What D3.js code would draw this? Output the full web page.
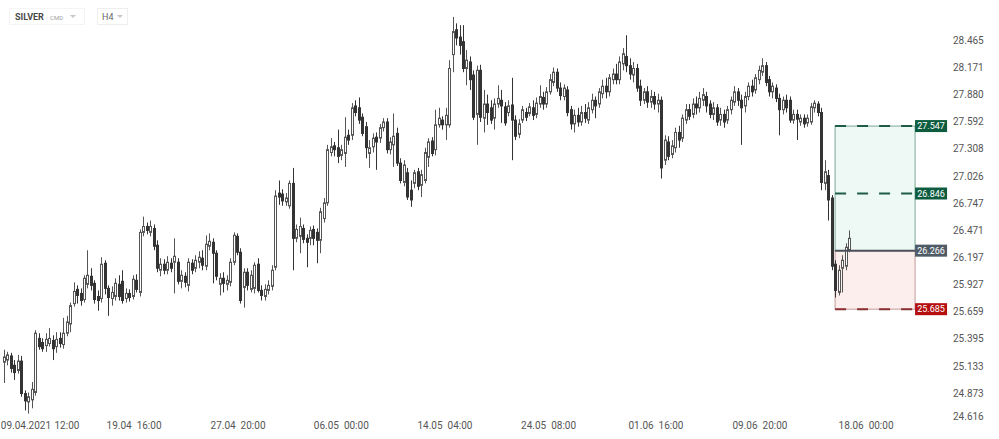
<!DOCTYPE html>
<html><head><meta charset="utf-8">
<script src="https://cdn.jsdelivr.net/npm/d3@7"></script>
<style>html,body{margin:0;padding:0;background:#fff;}svg{display:block;font-family:Roboto,"Noto Sans",Arial,sans-serif;}</style>
</head><body>
<svg id="chart" width="999" height="439"></svg>
<script>
// ---------- DATA ----------
const symbol = "SILVER", market = "CMD", interval = "H4";

const opens = [
25.17,25.19,25.23,25.14,25.09,25.18,24.87,24.79,24.81,24.88,
25.40,25.36,25.33,25.35,25.38,25.32,25.40,25.34,25.45,25.54,
25.74,25.88,25.84,25.78,25.93,26.01,25.94,25.81,25.79,26.14,
25.89,25.79,25.81,25.93,25.96,25.79,25.84,25.81,25.97,25.85,
26.45,26.51,26.45,26.49,26.32,26.07,26.13,26.07,26.14,26.15,
26.15,25.96,26.01,25.92,26.14,26.09,26.15,26.19,26.11,26.31,
26.35,26.24,25.93,25.99,25.93,25.95,26.15,26.41,26.25,25.90,
26.05,25.88,25.89,26.13,25.87,25.81,25.87,25.91,26.10,26.85,
26.84,26.76,26.72,26.95,26.39,26.41,26.49,26.39,26.39,26.48,
26.45,26.37,26.59,26.75,27.27,27.34,27.32,27.24,27.26,27.45,
27.45,27.76,27.74,27.64,27.54,27.26,27.33,27.43,27.42,27.53,
27.59,27.30,27.35,27.47,27.16,26.96,27.06,26.88,26.95,27.07,
26.93,26.98,27.22,27.39,27.30,27.56,27.61,27.56,27.56,28.31,
28.58,28.50,28.45,28.16,28.23,28.09,27.67,28.14,27.63,27.78,
27.74,27.63,27.78,27.82,27.75,27.69,27.77,27.61,27.46,27.61,
27.69,27.68,27.74,27.67,27.78,27.85,27.78,27.91,28.01,28.12,
27.95,27.86,27.93,27.72,27.57,27.66,27.59,27.69,27.61,27.72,
27.82,27.78,27.89,27.97,27.91,28.04,28.10,28.04,28.21,28.29,
28.19,28.09,28.16,27.97,27.82,27.91,27.80,27.86,27.78,27.82,
27.19,27.38,27.25,27.32,27.48,27.42,27.61,27.72,27.67,27.78,
27.74,27.82,27.86,27.78,27.67,27.74,27.61,27.67,27.61,27.72,
27.80,27.91,27.82,27.76,27.86,27.97,27.93,28.04,28.12,28.19,
28.04,27.91,27.95,27.84,27.72,27.82,27.82,27.61,27.67,27.59,
27.63,27.58,27.59,27.74,27.78,27.69,26.95,27.03,26.80,26.13,
25.85,26.09,26.11,26.27];

const highs = [
25.29,25.27,25.26,25.19,25.24,25.23,24.90,24.88,24.98,25.48,
25.45,25.40,25.45,25.50,25.43,25.46,25.46,25.60,25.62,25.75,
25.95,25.92,25.89,26.02,26.27,26.09,25.97,25.87,26.20,26.17,
25.92,25.91,25.99,26.02,26.07,25.89,25.88,26.02,26.03,26.48,
26.61,26.55,26.57,26.53,26.37,26.19,26.18,26.21,26.19,26.39,
26.19,26.07,26.05,26.19,26.18,26.22,26.26,26.27,26.42,26.44,
26.39,26.27,26.04,26.05,26.02,26.19,26.45,26.44,26.29,26.09,
26.09,26.07,26.15,26.19,25.92,25.93,25.97,26.12,26.88,26.98,
26.89,26.85,26.98,27.11,26.53,26.60,26.53,26.43,26.51,26.52,
26.49,26.70,26.80,27.35,27.42,27.38,27.51,27.35,27.64,27.51,
27.79,27.82,27.85,27.68,27.59,27.40,27.47,27.48,27.57,27.63,
27.63,27.43,27.68,27.53,27.21,27.19,27.11,26.98,27.09,27.11,
27.09,27.32,27.42,27.43,27.72,27.74,27.65,27.74,28.25,28.72,
28.65,28.63,28.63,28.36,28.29,28.14,28.19,28.20,27.93,27.88,
27.82,27.84,27.98,27.93,27.80,27.82,28.06,27.66,27.62,27.76,
27.74,27.79,27.82,27.85,27.98,27.91,27.96,28.10,28.17,28.16,
28.01,27.99,27.97,27.76,27.72,27.74,27.76,27.78,27.80,27.89,
27.86,27.95,28.04,28.06,28.10,28.16,28.21,28.29,28.38,28.52,
28.27,28.23,28.21,28.04,27.95,27.97,27.93,27.91,27.89,27.86,
27.45,27.44,27.40,27.53,27.55,27.67,27.78,27.78,27.84,27.86,
27.91,27.95,27.91,27.82,27.80,27.78,27.74,27.72,27.76,27.86,
27.97,27.95,27.88,27.91,28.01,28.04,28.10,28.19,28.27,28.23,
28.08,28.01,27.99,27.89,27.86,27.88,27.86,27.72,27.72,27.67,
27.67,27.67,27.79,27.82,27.81,27.74,27.19,27.09,26.83,26.17,
26.12,26.22,26.34,26.47];

const lows = [
24.97,25.14,25.07,25.00,25.06,24.84,24.71,24.68,24.73,24.85,
25.29,25.27,25.27,25.32,25.19,25.26,25.31,25.30,25.42,25.46,
25.71,25.74,25.72,25.75,25.89,25.87,25.74,25.67,25.75,25.83,
25.62,25.72,25.77,25.77,25.74,25.75,25.76,25.78,25.85,25.81,
26.41,26.43,26.41,26.27,26.05,26.01,26.03,26.03,26.05,25.84,
25.93,25.89,25.90,25.86,26.03,26.05,26.09,26.07,26.07,26.27,
25.94,25.97,25.82,25.85,25.87,25.91,26.12,26.22,25.74,25.70,
25.87,25.85,25.84,25.85,25.77,25.77,25.83,25.87,26.07,26.73,
26.72,26.72,26.69,26.07,26.35,26.24,26.34,26.10,26.32,26.32,
26.14,26.24,26.55,26.72,27.23,27.23,27.16,27.19,27.12,27.35,
27.40,27.65,27.57,27.44,27.21,27.11,27.27,27.09,27.37,27.49,
27.26,27.25,27.12,27.13,26.95,26.92,26.78,26.71,26.90,26.88,
26.81,26.95,27.12,27.23,27.24,27.53,27.51,27.40,27.53,28.12,
28.41,28.31,28.12,27.98,27.93,27.61,27.35,27.59,27.48,27.56,
27.57,27.51,27.74,27.58,27.55,27.65,27.19,27.40,27.42,27.58,
27.60,27.65,27.61,27.63,27.74,27.72,27.74,27.88,27.97,27.91,
27.82,27.82,27.65,27.51,27.48,27.54,27.55,27.58,27.57,27.68,
27.63,27.74,27.84,27.84,27.86,27.99,27.99,27.99,28.14,28.12,
28.04,28.01,27.91,27.76,27.78,27.74,27.74,27.72,27.69,27.00,
27.14,27.19,27.21,27.27,27.32,27.38,27.57,27.61,27.63,27.67,
27.69,27.76,27.69,27.63,27.61,27.55,27.55,27.53,27.57,27.67,
27.76,27.76,27.35,27.69,27.82,27.86,27.89,27.99,28.08,27.97,
27.86,27.84,27.80,27.45,27.67,27.69,27.58,27.57,27.40,27.55,
27.53,27.54,27.56,27.69,27.65,26.88,26.88,26.57,26.07,25.80,
25.82,25.85,26.07,26.25];

const closes = [
25.22,25.24,25.11,25.07,25.18,24.87,24.80,24.84,24.91,25.45,
25.32,25.30,25.39,25.40,25.30,25.39,25.35,25.45,25.56,25.72,
25.86,25.82,25.77,25.99,26.02,25.92,25.78,25.77,26.13,25.89,
25.80,25.85,25.94,25.81,25.77,25.84,25.80,25.98,25.88,26.45,
26.51,26.47,26.51,26.31,26.09,26.13,26.07,26.15,26.09,26.21,
25.96,26.02,25.95,26.15,26.07,26.17,26.20,26.12,26.33,26.36,
26.24,26.01,25.99,25.94,25.97,26.15,26.42,26.25,25.77,26.05,
25.92,26.02,26.12,25.87,25.82,25.88,25.92,26.07,26.82,26.81,
26.77,26.80,26.95,26.39,26.48,26.51,26.38,26.35,26.47,26.39,
26.37,26.66,26.75,27.30,27.33,27.30,27.23,27.30,27.43,27.40,
27.74,27.69,27.61,27.47,27.32,27.32,27.42,27.38,27.53,27.59,
27.30,27.38,27.44,27.16,26.98,27.14,26.81,26.78,27.06,26.92,
27.04,27.27,27.38,27.26,27.56,27.63,27.56,27.66,28.16,28.56,
28.49,28.41,28.16,28.25,28.04,27.64,28.14,27.64,27.78,27.69,
27.61,27.78,27.84,27.76,27.58,27.76,27.61,27.44,27.57,27.72,
27.64,27.75,27.66,27.79,27.86,27.78,27.91,28.04,28.12,27.95,
27.87,27.95,27.69,27.57,27.66,27.59,27.69,27.63,27.74,27.82,
27.76,27.91,27.97,27.91,28.06,28.10,28.04,28.23,28.32,28.19,
28.10,28.16,27.95,27.82,27.91,27.80,27.86,27.78,27.82,27.11,
27.40,27.23,27.34,27.48,27.40,27.63,27.72,27.65,27.78,27.74,
27.84,27.88,27.76,27.67,27.74,27.59,27.67,27.59,27.72,27.82,
27.91,27.82,27.74,27.86,27.97,27.91,28.06,28.14,28.19,28.01,
27.91,27.97,27.84,27.72,27.82,27.74,27.61,27.67,27.62,27.63,
27.57,27.63,27.75,27.79,27.69,26.96,27.07,26.78,26.11,25.87,
26.07,26.17,26.30,26.39];

// price-axis tick labels (log-spaced)
const yTickLabels = ["28.465","28.171","27.880","27.592","27.308","27.026","26.747","26.471","26.197","25.927","25.659","25.395","25.133","24.873","24.616"];
// time-axis labels and the bar position (index) they sit at
const xTickLabels = ["09.04.2021","12:00","19.04  16:00","27.04  20:00","06.05  00:00","14.05  04:00","24.05  08:00","01.06  16:00","09.06  20:00","18.06  00:00"];
const xTickIndex  = [6.3, 18.1, 37.4, 67.3, 97.0, 126.8, 156.6, 187.5, 217.4, 247.9];

// trade setup (position tool)
const tradeStartIndex = 239, tradeEndIndex = 262;
const levelNames  = ["tp2","tp1","entry","sl"];
const levelValues = [27.547, 26.846, 26.266, 25.685];

// ---------- DRAW ----------
const svg = d3.select("#chart");
const W = 999, H = 439;
const n = closes.length;
const x = d3.scaleLinear().domain([0, n - 1]).range([4, 849]);
const y = d3.scaleLog().domain([24.616, 28.465]).range([420.4, 40.3]);

const bars = d3.range(n).map(i => ({i, o: opens[i], h: highs[i], l: lows[i], c: closes[i]}));

// header
const hdr = svg.append("g");
hdr.append("rect").attr("x", 9.5).attr("y", 8.5).attr("width", 75).attr("height", 16).attr("fill", "none").attr("stroke", "#f4f4f4");
hdr.append("text").attr("x", 15).attr("y", 20).attr("font-size", 9).attr("font-weight", 700).attr("fill", "#4a4a4a").text(symbol);
hdr.append("text").attr("x", 50).attr("y", 19.5).attr("font-size", 6).attr("fill", "#a0a0a0").text(market);
hdr.append("path").attr("d", "M70,15 L76,15 L73,18 Z").attr("fill", "#c8c8c8");
hdr.append("rect").attr("x", 97.5).attr("y", 8.5).attr("width", 30).attr("height", 16).attr("fill", "none").attr("stroke", "#eeeeee");
hdr.append("text").attr("x", 102).attr("y", 20).attr("font-size", 9).attr("fill", "#666").text(interval);
hdr.append("path").attr("d", "M117,15 L123,15 L120,18 Z").attr("fill", "#c8c8c8");

// trade zones
const xs = x(tradeStartIndex), xe = x(tradeEndIndex);
const lv = {}; levelNames.forEach((k, j) => lv[k] = levelValues[j]);
const zone = svg.append("g");
zone.append("rect").attr("x", xs).attr("y", y(lv.tp2)).attr("width", xe - xs).attr("height", y(lv.entry) - y(lv.tp2))
  .attr("fill", "#eef8f4").attr("stroke", "#7aa896").attr("stroke-width", 1);
zone.append("rect").attr("x", xs).attr("y", y(lv.entry)).attr("width", xe - xs).attr("height", y(lv.sl) - y(lv.entry))
  .attr("fill", "#fdeeee").attr("stroke", "#c49a9a").attr("stroke-width", 1);

// candles
const cg = svg.append("g");
const px = d => Math.round(x(d.i));
cg.selectAll("line.wick").data(bars).join("line").attr("class", "wick")
  .attr("x1", d => px(d) + 0.5).attr("x2", d => px(d) + 0.5)
  .attr("y1", d => y(d.h)).attr("y2", d => y(d.l))
  .attr("stroke", d => d.c >= d.o ? "#555" : "#333").attr("stroke-width", 1);
cg.selectAll("rect.body").data(bars).join("rect").attr("class", "body")
  .attr("x", d => px(d) - 0.5).attr("width", 2)
  .attr("y", d => y(Math.max(d.o, d.c)))
  .attr("height", d => Math.max(1, Math.abs(y(d.o) - y(d.c))))
  .attr("fill", d => d.c >= d.o ? "#ffffff" : "#333333")
  .attr("stroke", d => d.c >= d.o ? "#555" : "#333").attr("stroke-width", 1);

// level lines
const lg = svg.append("g");
lg.append("line").attr("x1", xs).attr("x2", xe).attr("y1", y(lv.tp2)).attr("y2", y(lv.tp2))
  .attr("stroke", "#1e5c45").attr("stroke-width", 2).attr("stroke-dasharray", "11,11");
lg.append("line").attr("x1", xs).attr("x2", xe).attr("y1", y(lv.tp1)).attr("y2", y(lv.tp1))
  .attr("stroke", "#1e5c45").attr("stroke-width", 2).attr("stroke-dasharray", "11,11");
lg.append("line").attr("x1", xs).attr("x2", xe).attr("y1", y(lv.sl)).attr("y2", y(lv.sl))
  .attr("stroke", "#8a3030").attr("stroke-width", 2).attr("stroke-dasharray", "11,11");
lg.append("line").attr("x1", xs).attr("x2", xe).attr("y1", y(lv.entry)).attr("y2", y(lv.entry))
  .attr("stroke", "#4b5058").attr("stroke-width", 2);

// level labels
const labColor = {tp2: "#0d5c3f", tp1: "#0d5c3f", entry: "#4f5b66", sl: "#b3100f"};
const labs = svg.append("g").selectAll("g").data(levelNames).join("g")
  .attr("transform", k => `translate(${xe},${y(lv[k])})`);
labs.append("rect").attr("x", 0).attr("y", -6).attr("width", 32).attr("height", 12).attr("fill", k => labColor[k]);
labs.append("text").attr("x", 16).attr("y", 3.2).attr("text-anchor", "middle").attr("font-size", 9)
  .attr("fill", "#fff").text(k => lv[k].toFixed(3));

// y-axis labels
svg.append("g").selectAll("text").data(yTickLabels).join("text")
  .attr("x", 953).attr("y", t => Math.min(y(+t), 416) + 3.5)
  .attr("font-size", 10).attr("fill", "#555").text(t => t);

// x-axis labels
svg.append("g").selectAll("text").data(xTickLabels).join("text")
  .attr("x", (t, j) => x(xTickIndex[j])).attr("y", 429)
  .attr("text-anchor", "middle").attr("font-size", 10).attr("fill", "#555")
  .attr("xml:space", "preserve").style("white-space", "pre").text(t => t);
</script>
</body></html>
